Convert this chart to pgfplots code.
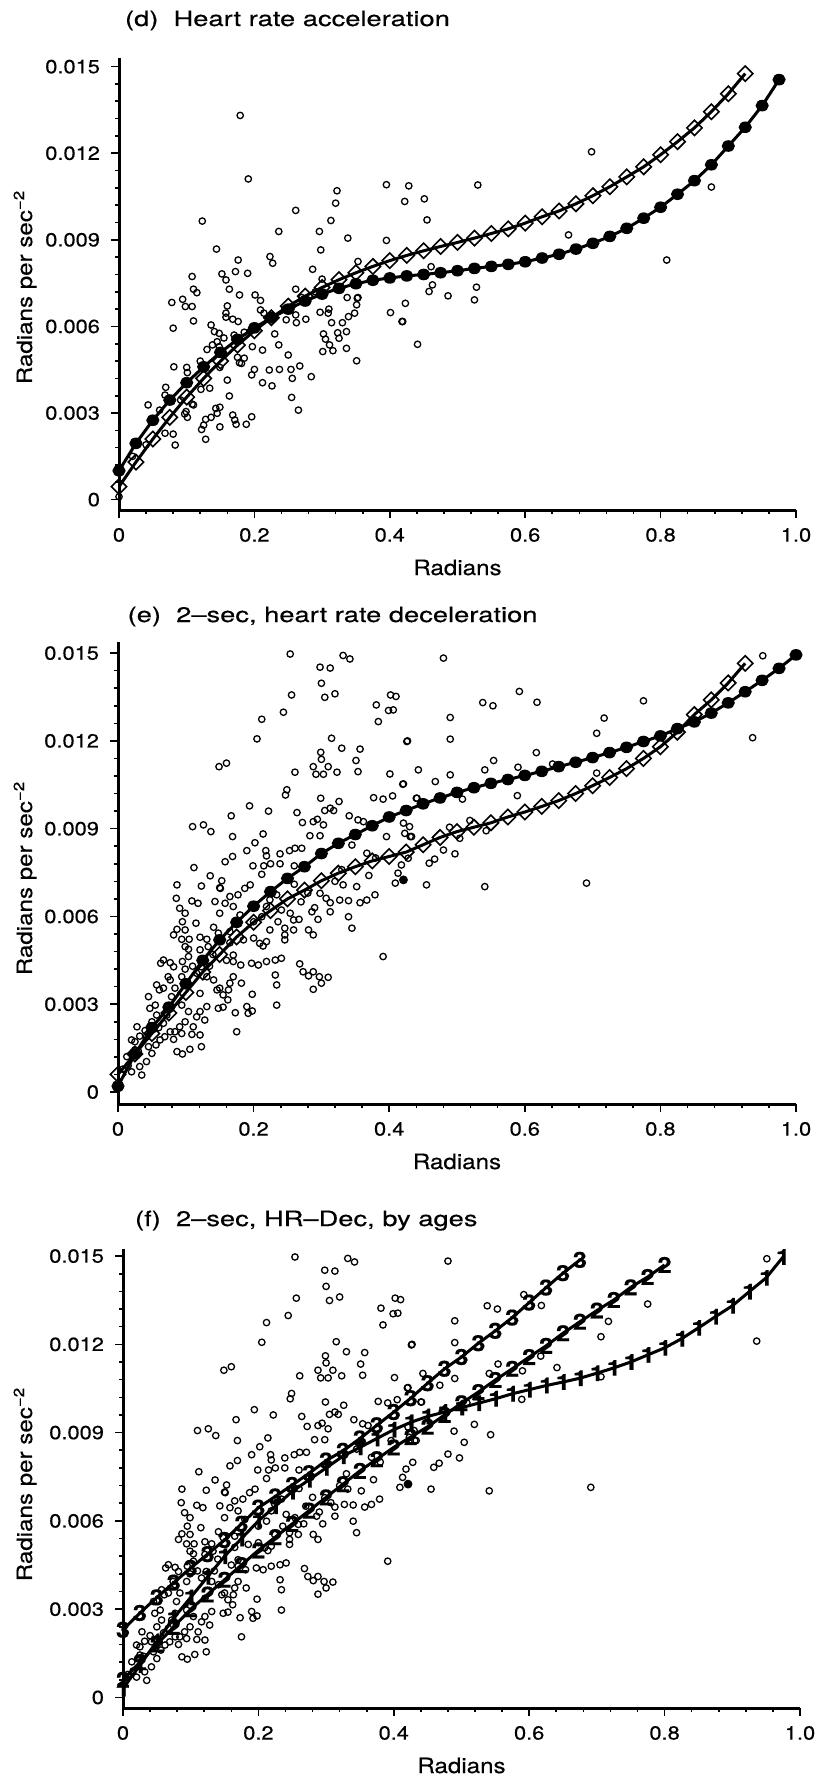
\documentclass[border=0pt]{standalone}
\usepackage{fontspec}
\setmainfont{TeX Gyre Heros}[FakeStretch=1.15, FakeBold=0.4]
\newfontfamily\titlefont{TeX Gyre Heros}[FakeStretch=1.3, FakeBold=0.4]
\usepackage{pgfplots}
\usepackage{pgfplotstable}
\pgfplotsset{compat=1.18}

% ---------- data ----------
\pgfplotstableread{
x y
0.179 0.01331
0.191 0.01111
0.123 0.00965
0.144 0.00868
0.176 0.00830
0.152 0.00782
0.158 0.00761
0.172 0.00790
0.190 0.00784
0.108 0.00773
0.110 0.00729
0.115 0.00717
0.223 0.00842
0.227 0.00819
0.236 0.00929
0.261 0.01002
0.261 0.00729
0.286 0.00798
0.296 0.00929
0.298 0.00865
0.300 0.00764
0.313 0.00967
0.320 0.01027
0.322 0.01070
0.338 0.00906
0.353 0.00825
0.395 0.01091
0.428 0.01087
0.422 0.01033
0.395 0.00898
0.178 0.00709
0.201 0.00709
0.094 0.00694
0.451 0.01042
0.530 0.01090
0.455 0.00969
0.698 0.01205
0.875 0.01083
0.664 0.00917
0.809 0.00830
0.461 0.00807
0.463 0.00744
0.458 0.00721
0.486 0.00706
0.528 0.00736
0.423 0.00680
0.418 0.00617
0.441 0.00538
0.525 0.00692
0.078 0.00683
0.098 0.00669
0.108 0.00669
0.110 0.00619
0.080 0.00594
0.209 0.00690
0.163 0.00729
0.209 0.00657
0.214 0.00646
0.160 0.00671
0.158 0.00646
0.158 0.00632
0.168 0.00625
0.176 0.00617
0.136 0.00605
0.141 0.00582
0.148 0.00576
0.138 0.00536
0.145 0.00547
0.148 0.00530
0.149 0.00458
0.160 0.00414
0.178 0.00474
0.185 0.00490
0.181 0.00472
0.197 0.00530
0.201 0.00599
0.212 0.00518
0.212 0.00405
0.196 0.00432
0.200 0.00451
0.222 0.00449
0.226 0.00394
0.230 0.00574
0.236 0.00536
0.237 0.00451
0.250 0.00501
0.254 0.00451
0.256 0.00420
0.255 0.00354
0.265 0.00310
0.267 0.00463
0.284 0.00426
0.261 0.00640
0.262 0.00613
0.276 0.00625
0.247 0.00623
0.297 0.00649
0.310 0.00660
0.309 0.00646
0.314 0.00613
0.302 0.00574
0.305 0.00556
0.311 0.00536
0.301 0.00513
0.316 0.00516
0.323 0.00578
0.325 0.00559
0.336 0.00582
0.330 0.00613
0.339 0.00634
0.348 0.00646
0.351 0.00675
0.352 0.00698
0.336 0.00524
0.351 0.00481
0.401 0.00648
0.419 0.00617
0.337 0.00700
0.353 0.00700
0.043 0.00328
0.069 0.00389
0.068 0.00362
0.068 0.00230
0.080 0.00227
0.083 0.00189
0.081 0.00460
0.100 0.00458
0.101 0.00440
0.110 0.00328
0.099 0.00305
0.101 0.00285
0.097 0.00297
0.121 0.00382
0.134 0.00386
0.122 0.00243
0.125 0.00258
0.128 0.00278
0.128 0.00209
0.136 0.00285
0.143 0.00316
0.149 0.00252
0.145 0.00299
0.149 0.00320
0.168 0.00293
0.171 0.00276
0.173 0.00261
0.188 0.00261
0.196 0.00287
0.163 0.00359
0.175 0.00493
0.091 0.00345
0.108 0.00331
0.000 0.00010
0.050 0.00270
0.060 0.00310
0.075 0.00350
0.120 0.00480
0.130 0.00520
0.155 0.00560
0.170 0.00570
0.185 0.00580
0.040 0.00190
0.020 0.00150
0.245 0.00660
0.270 0.00700
0.290 0.00720
}\dpts

\pgfplotstableread{
x y
0 0.00100
0.025 0.00195
0.05 0.00275
0.075 0.00345
0.1 0.00405
0.125 0.00460
0.15 0.00510
0.175 0.00555
0.2 0.00595
0.225 0.00630
0.25 0.00660
0.275 0.00688
0.3 0.00712
0.325 0.00732
0.35 0.00748
0.375 0.00760
0.4 0.00768
0.425 0.00775
0.45 0.00780
0.475 0.00786
0.5 0.00793
0.525 0.00801
0.55 0.00808
0.575 0.00815
0.6 0.00824
0.625 0.00837
0.65 0.00850
0.675 0.00868
0.7 0.00888
0.725 0.00912
0.75 0.00940
0.775 0.00975
0.8 0.01013
0.825 0.01058
0.85 0.01105
0.875 0.01160
0.9 0.01225
0.925 0.01290
0.95 0.01365
0.975 0.01455
}\dcirc

\pgfplotstableread{
x y
0 0.00045
0.025 0.00130
0.05 0.00210
0.075 0.00285
0.1 0.00355
0.125 0.00420
0.15 0.00480
0.175 0.00535
0.2 0.00585
0.225 0.00630
0.25 0.00670
0.275 0.00705
0.3 0.00735
0.325 0.00762
0.35 0.00786
0.375 0.00808
0.4 0.00828
0.425 0.00846
0.45 0.00862
0.475 0.00877
0.5 0.00891
0.525 0.00906
0.55 0.00922
0.575 0.00938
0.6 0.00958
0.625 0.00980
0.65 0.01000
0.675 0.01025
0.7 0.01053
0.725 0.01084
0.75 0.01118
0.775 0.01153
0.8 0.01195
0.825 0.01240
0.85 0.01288
0.875 0.01344
0.9 0.01406
0.925 0.01476
}\ddiam

\pgfplotstableread{
x y
0.254 0.01497
0.298 0.01452
0.313 0.01449
0.332 0.01492
0.342 0.01480
0.300 0.01397
0.256 0.01357
0.305 0.01349
0.320 0.01361
0.244 0.01298
0.212 0.01274
0.205 0.01207
0.315 0.01209
0.381 0.01323
0.384 0.01266
0.402 0.01357
0.410 0.01352
0.399 0.01304
0.406 0.01306
0.427 0.01200
0.149 0.01112
0.160 0.01124
0.299 0.01161
0.300 0.01137
0.288 0.01112
0.310 0.01112
0.292 0.01086
0.303 0.01086
0.261 0.01093
0.330 0.01175
0.357 0.01172
0.351 0.01133
0.354 0.01095
0.323 0.01093
0.401 0.01087
0.421 0.01053
0.443 0.01101
0.249 0.01033
0.247 0.01015
0.299 0.01004
0.326 0.00993
0.305 0.00962
0.313 0.00970
0.318 0.00962
0.377 0.01006
0.391 0.01001
0.405 0.01012
0.440 0.01004
0.194 0.00978
0.222 0.00960
0.167 0.00944
0.110 0.00907
0.126 0.00913
0.137 0.00890
0.169 0.00873
0.214 0.00882
0.264 0.00955
0.272 0.00921
0.288 0.00924
0.294 0.00932
0.303 0.00913
0.283 0.00876
0.298 0.00876
0.341 0.00944
0.354 0.00930
0.362 0.00924
0.396 0.00873
0.421 0.00919
0.423 0.00884
0.431 0.00873
0.190 0.00825
0.202 0.00852
0.218 0.00825
0.219 0.00807
0.169 0.00805
0.158 0.00787
0.199 0.00773
0.215 0.00773
0.225 0.00780
0.239 0.00814
0.253 0.00825
0.261 0.00833
0.271 0.00833
0.239 0.00780
0.260 0.00773
0.212 0.00744
0.112 0.00767
0.136 0.00739
0.153 0.00722
0.123 0.00704
0.087 0.00708
0.150 0.00698
0.345 0.00844
0.367 0.00816
0.409 0.00714
0.413 0.00748
0.428 0.00799
0.480 0.01483
0.592 0.01369
0.538 0.01331
0.553 0.01320
0.618 0.01332
0.775 0.01337
0.951 0.01491
0.490 0.01280
0.717 0.01278
0.426 0.01198
0.490 0.01206
0.706 0.01226
0.936 0.01211
0.617 0.01160
0.554 0.01133
0.541 0.01101
0.590 0.01110
0.641 0.01121
0.490 0.01084
0.468 0.01061
0.420 0.01052
0.706 0.01090
0.441 0.01004
0.589 0.01013
0.508 0.01001
0.430 0.00907
0.519 0.00928
0.489 0.00905
0.543 0.00893
0.433 0.00873
0.504 0.00867
0.480 0.00827
0.497 0.00814
0.459 0.00782
0.467 0.00796
0.418 0.00776
0.455 0.00708
0.541 0.00702
0.691 0.00714
0.086 0.00662
0.091 0.00628
0.099 0.00611
0.095 0.00582
0.087 0.00556
0.099 0.00554
0.082 0.00537
0.094 0.00522
0.151 0.00696
0.109 0.00653
0.118 0.00645
0.143 0.00651
0.158 0.00645
0.165 0.00668
0.177 0.00674
0.187 0.00696
0.195 0.00708
0.170 0.00634
0.180 0.00605
0.115 0.00577
0.141 0.00563
0.150 0.00611
0.105 0.00522
0.121 0.00529
0.131 0.00522
0.148 0.00543
0.165 0.00548
0.099 0.00497
0.104 0.00488
0.121 0.00486
0.133 0.00497
0.165 0.00510
0.170 0.00468
0.200 0.00526
0.209 0.00508
0.214 0.00499
0.219 0.00514
0.224 0.00554
0.200 0.00582
0.212 0.00599
0.219 0.00634
0.224 0.00657
0.234 0.00674
0.241 0.00622
0.236 0.00582
0.246 0.00560
0.259 0.00554
0.246 0.00537
0.246 0.00520
0.259 0.00588
0.267 0.00590
0.254 0.00611
0.286 0.00616
0.281 0.00554
0.288 0.00537
0.295 0.00590
0.298 0.00679
0.307 0.00662
0.313 0.00647
0.313 0.00616
0.332 0.00708
0.327 0.00656
0.340 0.00654
0.352 0.00702
0.357 0.00647
0.367 0.00656
0.379 0.00674
0.340 0.00599
0.345 0.00560
0.391 0.00463
0.197 0.00440
0.207 0.00434
0.219 0.00446
0.232 0.00451
0.241 0.00457
0.232 0.00400
0.234 0.00366
0.234 0.00297
0.268 0.00438
0.273 0.00411
0.281 0.00397
0.288 0.00411
0.297 0.00394
0.300 0.00372
0.310 0.00392
0.288 0.00351
0.170 0.00446
0.181 0.00434
0.165 0.00372
0.155 0.00332
0.150 0.00355
0.148 0.00286
0.155 0.00290
0.173 0.00271
0.175 0.00206
0.190 0.00292
0.192 0.00269
0.198 0.00277
0.198 0.00334
0.182 0.00372
0.121 0.00337
0.131 0.00292
0.121 0.00275
0.128 0.00246
0.121 0.00195
0.123 0.00155
0.106 0.00146
0.095 0.00130
0.087 0.00138
0.082 0.00180
0.077 0.00206
0.084 0.00206
0.091 0.00223
0.099 0.00240
0.094 0.00200
0.109 0.00197
0.111 0.00223
0.116 0.00257
0.104 0.00275
0.094 0.00297
0.077 0.00286
0.072 0.00263
0.067 0.00235
0.069 0.00189
0.062 0.00178
0.056 0.00161
0.050 0.00132
0.042 0.00104
0.032 0.00087
0.035 0.00058
0.020 0.00069
0.013 0.00121
0.025 0.00172
0.032 0.00191
0.028 0.00223
0.042 0.00189
0.045 0.00155
0.045 0.00326
0.047 0.00286
0.055 0.00297
0.057 0.00263
0.061 0.00349
0.063 0.00440
0.067 0.00451
0.077 0.00442
0.082 0.00428
0.077 0.00383
0.057 0.00366
0.067 0.00355
0.074 0.00394
0.084 0.00355
0.079 0.00326
0.095 0.00446
0.099 0.00420
0.094 0.00394
0.104 0.00463
0.116 0.00406
0.123 0.00428
0.131 0.00394
0.141 0.00383
0.146 0.00349
0.163 0.00349
0.162 0.00315
0.170 0.00394
0.020 0.00178
0.025 0.00144
0.007 0.00078
0.140 0.00470
0.160 0.00450
0.185 0.00520
0.110 0.00430
0.135 0.00430
0.060 0.00220
0.040 0.00210
0.050 0.00240
0.015 0.00090
0.030 0.00140
0.270 0.00650
0.280 0.00680
0.260 0.00710
0.320 0.00720
0.330 0.00760
0.370 0.00740
0.380 0.00800
0.290 0.00630
}\epts

\pgfplotstableread{
x y
0 0.00020
0.025 0.00130
0.05 0.00220
0.075 0.00290
0.1 0.00370
0.125 0.00450
0.15 0.00520
0.175 0.00580
0.2 0.00635
0.225 0.00685
0.25 0.00730
0.275 0.00770
0.3 0.00815
0.325 0.00850
0.35 0.00880
0.375 0.00910
0.4 0.00940
0.425 0.00962
0.45 0.00985
0.475 0.01005
0.5 0.01024
0.525 0.01040
0.55 0.01055
0.575 0.01068
0.6 0.01082
0.625 0.01096
0.65 0.01112
0.675 0.01127
0.7 0.01143
0.725 0.01160
0.75 0.01178
0.775 0.01198
0.8 0.01217
0.825 0.01242
0.85 0.01265
0.875 0.01295
0.9 0.01330
0.925 0.01368
0.95 0.01407
0.975 0.01448
1.0 0.01494
}\ecirc

\pgfplotstableread{
x y
0 0.00060
0.025 0.00130
0.05 0.00200
0.075 0.00270
0.1 0.00340
0.125 0.00410
0.15 0.00470
0.175 0.00530
0.2 0.00580
0.225 0.00620
0.25 0.00660
0.275 0.00690
0.3 0.00722
0.325 0.00748
0.35 0.00770
0.375 0.00790
0.4 0.00805
0.425 0.00820
0.45 0.00845
0.475 0.00870
0.5 0.00890
0.525 0.00905
0.55 0.00920
0.575 0.00940
0.6 0.00957
0.625 0.00976
0.65 0.00996
0.675 0.01020
0.7 0.01047
0.725 0.01075
0.75 0.01105
0.775 0.01140
0.8 0.01180
0.825 0.01230
0.85 0.01290
0.875 0.01340
0.9 0.01398
0.925 0.01465
}\ediam

\pgfplotstableread{
x y
0 0.00030
0.025 0.00110
0.05 0.00190
0.075 0.00270
0.1 0.00340
0.125 0.00410
0.15 0.00480
0.175 0.00540
0.2 0.00600
0.225 0.00650
0.25 0.00700
0.275 0.00740
0.3 0.00780
0.325 0.00820
0.35 0.00850
0.375 0.00880
0.4 0.00910
0.425 0.00935
0.45 0.00955
0.475 0.00970
0.5 0.00985
0.525 0.01000
0.55 0.01015
0.575 0.01032
0.6 0.01046
0.625 0.01060
0.65 0.01072
0.675 0.01085
0.7 0.01102
0.725 0.01120
0.75 0.01140
0.775 0.01164
0.8 0.01188
0.825 0.01219
0.85 0.01256
0.875 0.01294
0.9 0.01331
0.925 0.01379
0.95 0.01426
0.975 0.01497
}\fone

\pgfplotstableread{
x y
0 0.00060
0.025 0.00120
0.05 0.00180
0.075 0.00240
0.1 0.00300
0.125 0.00350
0.15 0.00400
0.175 0.00450
0.2 0.00500
0.225 0.00545
0.25 0.00590
0.275 0.00635
0.3 0.00680
0.325 0.00725
0.35 0.00770
0.375 0.00810
0.4 0.00850
0.425 0.00885
0.45 0.00920
0.475 0.00960
0.5 0.01000
0.525 0.01038
0.55 0.01079
0.575 0.01117
0.6 0.01157
0.625 0.01195
0.65 0.01238
0.675 0.01277
0.7 0.01315
0.725 0.01351
0.75 0.01394
0.775 0.01429
0.8 0.01470
}\ftwo

\pgfplotstableread{
x y
0 0.00230
0.025 0.00287
0.05 0.00340
0.075 0.00390
0.1 0.00440
0.125 0.00487
0.15 0.00535
0.175 0.00590
0.2 0.00645
0.225 0.00683
0.25 0.00722
0.275 0.00762
0.3 0.00805
0.325 0.00838
0.35 0.00880
0.375 0.00925
0.4 0.00970
0.425 0.01017
0.45 0.01068
0.475 0.01117
0.5 0.01157
0.525 0.01204
0.55 0.01246
0.575 0.01291
0.6 0.01342
0.625 0.01393
0.65 0.01442
0.675 0.01487
}\fthree

\pgfplotsset{
  panel/.style={
    scale only axis,
    anchor=south west,
    axis x line=bottom, axis y line=left,
    axis line style={-, line width=1.5pt},
    xmin=0, xmax=1,
    xtick={0,0.2,0.4,0.6,0.8,1.0},
    xticklabels={0,0.2,0.4,0.6,0.8,1.0},
    ytick={0,0.003,0.006,0.009,0.012,0.015},
    yticklabels={0,0.003,0.006,0.009,0.012,0.015},
    scaled x ticks=false, scaled y ticks=false,
    minor x tick num=4, minor y tick num=4,
    tick align=outside,
    major tick length=4pt, minor tick length=2pt,
    every tick/.style={black, line width=0.8pt},
    tick label style={font=\fontsize{9.5}{10}\selectfont},
    xticklabel style={yshift=-1.5pt},
    yticklabel style={xshift=-2pt},
    xlabel={Radians},
    xlabel style={font=\fontsize{10.5}{12}\selectfont, at={(axis description cs:0.5,0)}, anchor=base, yshift=-32.5pt},
    clip=false,
  },
  pts/.style={only marks, mark=o, mark size=1.6pt, mark options={line width=0.65pt}, black},
  fitcirc/.style={black, line width=1.5pt, mark=*, mark size=2.5pt, mark options={xscale=1.15, line width=0.8pt}},
  fitdiam/.style={black, line width=1.5pt, mark=square, mark size=2.7pt, mark options={rotate=45, line width=0.8pt}},
  fitnum/.style={black, line width=1.5pt, mark=text, text mark={#1}, text mark as node=true,
    text mark style={font=\bfseries\fontsize{11}{11}\selectfont, inner sep=0pt}},
}

\begin{document}
\begin{tikzpicture}
\path[use as bounding box] (0,0) rectangle (410pt,-890.5pt);

\node[anchor=base west, font=\titlefont\fontsize{10.5}{12}\selectfont] at (59pt,-13pt) {(d)\ \ Heart rate acceleration};
\node[anchor=base west, font=\titlefont\fontsize{10.5}{12}\selectfont] at (60.3pt,-311pt) {(e)\ \ 2–sec, heart rate deceleration};
\node[anchor=base west, font=\titlefont\fontsize{10.5}{12}\selectfont] at (64pt,-613pt) {(f)\ \ 2–sec, HR–Dec, by ages};

\node[rotate=90, anchor=base, font=\fontsize{10.5}{12}\selectfont] at (16pt,-143.5pt) {Radians per sec\textsuperscript{−2}};
\node[rotate=90, anchor=base, font=\fontsize{10.5}{12}\selectfont] at (16pt,-439pt) {Radians per sec\textsuperscript{−2}};
\node[rotate=90, anchor=base, font=\fontsize{10.5}{12}\selectfont] at (16pt,-742pt) {Radians per sec\textsuperscript{−2}};

% (d)
\begin{axis}[panel, at={(59.5pt,-255pt)}, width=338.5pt, height=226pt,
  ymin=-0.00036, ymax=0.0153]
\addplot[pts] table {\dpts};
\addplot[fitdiam] table {\ddiam};
\addplot[fitcirc] table {\dcirc};
\end{axis}

% (e)
\begin{axis}[panel, at={(59pt,-552pt)}, width=339pt, height=231pt,
  ymin=-0.00041, ymax=0.01538]
\addplot[pts] table {\epts};
\addplot[only marks, mark=*, mark size=2pt, black] coordinates {(0.421,0.00725)};
\addplot[fitdiam] table {\ediam};
\addplot[fitcirc] table {\ecirc};
\end{axis}

% (f)
\begin{axis}[panel, at={(61.5pt,-854pt)}, width=338.5pt, height=229.5pt,
  ymin=-0.00036, ymax=0.01524]
\addplot[pts] table {\epts};
\addplot[only marks, mark=*, mark size=2pt, black] coordinates {(0.421,0.00725)};
\addplot[fitnum=1] table {\fone};
\addplot[fitnum=2] table {\ftwo};
\addplot[fitnum=3] table {\fthree};
\end{axis}
\end{tikzpicture}
\end{document}
